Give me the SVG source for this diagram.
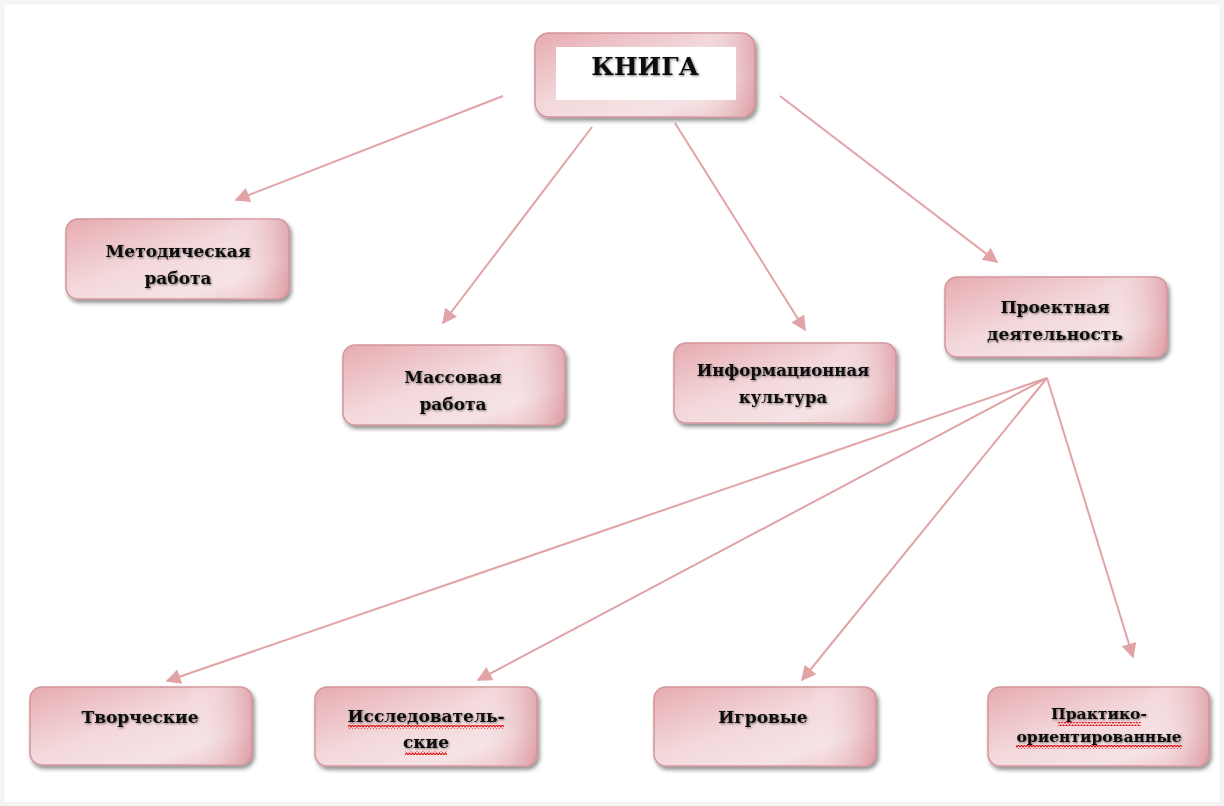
<svg xmlns="http://www.w3.org/2000/svg" width="1224" height="806" viewBox="0 0 1224 806">
<defs>
<linearGradient id="g" x1="0" y1="0" x2="1" y2="1">
<stop offset="0" stop-color="#e6abb0"/>
<stop offset="0.45" stop-color="#f3d8db"/>
<stop offset="0.75" stop-color="#f6e3e5"/>
<stop offset="1" stop-color="#eabdc1"/>
</linearGradient>
<linearGradient id="gr" x1="0" y1="0" x2="1" y2="0">
<stop offset="0.7" stop-color="#ffffff" stop-opacity="0"/>
<stop offset="1" stop-color="#d4868f" stop-opacity="0.6"/>
</linearGradient>
<filter id="sh" x="-10%" y="-10%" width="125%" height="135%">
<feGaussianBlur in="SourceAlpha" stdDeviation="2"/>
<feOffset dx="2" dy="3"/>
<feComponentTransfer><feFuncA type="linear" slope="0.45"/></feComponentTransfer>
<feMerge><feMergeNode/><feMergeNode in="SourceGraphic"/></feMerge>
</filter>
<filter id="ts" x="-5%" y="-20%" width="110%" height="140%">
<feGaussianBlur in="SourceAlpha" stdDeviation="0.8"/>
<feOffset dx="1" dy="1"/>
<feComponentTransfer><feFuncA type="linear" slope="0.5"/></feComponentTransfer>
<feMerge><feMergeNode/><feMergeNode in="SourceGraphic"/></feMerge>
</filter>
<marker id="ah2" viewBox="0 0 10 10" refX="9" refY="5" markerWidth="17" markerHeight="15" markerUnits="userSpaceOnUse" orient="auto">
<path d="M0,0 L10,5 L0,10 z" fill="#e2a3a7"/>
</marker>
<pattern id="wv" width="6" height="4" patternUnits="userSpaceOnUse">
<path d="M0,3 L1.5,1 L3,3 L4.5,1 L6,3" fill="none" stroke="#e01818" stroke-width="1.2"/>
</pattern>
</defs>
<style>
.box{fill:url(#g);stroke:#d2959b;stroke-width:1.5}
.edge{fill:url(#gr)}
.t{font-family:"DejaVu Serif","Liberation Serif",serif;font-weight:bold;font-size:17px;fill:#111;text-anchor:middle}
.big{font-size:25px}
.sm{font-size:15.5px}
.c{stroke:#e2a3a7;stroke-width:2;fill:none;marker-end:url(#ah2)}
</style>
<rect width="1224" height="806" fill="#ffffff"/>
<rect x="2" y="2" width="1220" height="802" fill="none" stroke="#f4f4f4" stroke-width="5"/>

<g id="connectors">
<line class="c" x1="503" y1="96" x2="236" y2="200"/>
<line class="c" x1="592" y1="127" x2="443" y2="323"/>
<line class="c" x1="675" y1="123" x2="805" y2="330"/>
<line class="c" x1="780" y1="96" x2="997" y2="262"/>
<line class="c" x1="1047" y1="378" x2="167" y2="681"/>
<line class="c" x1="1047" y1="378" x2="478" y2="680"/>
<line class="c" x1="1047" y1="378" x2="802" y2="680"/>
<line class="c" x1="1047" y1="378" x2="1133" y2="657"/>
</g>

<g id="kniga" filter="url(#sh)">
<rect class="box" x="535" y="33" width="220" height="84" rx="14"/>
<rect class="edge" x="535" y="33" width="220" height="84" rx="14"/>
<rect x="556" y="47" width="180" height="53" fill="#ffffff"/>
<text class="t big" x="645" y="75" filter="url(#ts)">КНИГА</text>
</g>

<g id="metod" filter="url(#sh)">
<rect class="box" x="66" y="219" width="223" height="80" rx="12"/>
<rect class="edge" x="66" y="219" width="223" height="80" rx="12"/>
<text class="t" x="178" y="257" filter="url(#ts)">Методическая</text>
<text class="t" x="178" y="284" filter="url(#ts)">работа</text>
</g>

<g id="massovaya" filter="url(#sh)">
<rect class="box" x="343" y="345" width="222" height="80" rx="12"/>
<rect class="edge" x="343" y="345" width="222" height="80" rx="12"/>
<text class="t" x="453" y="383" filter="url(#ts)">Массовая</text>
<text class="t" x="453" y="410" filter="url(#ts)">работа</text>
</g>

<g id="inform" filter="url(#sh)">
<rect class="box" x="674" y="343" width="222" height="80" rx="12"/>
<rect class="edge" x="674" y="343" width="222" height="80" rx="12"/>
<text class="t" x="783" y="376" style="font-size:16.5px" filter="url(#ts)">Информационная</text>
<text class="t" x="783" y="403" style="font-size:16.5px" filter="url(#ts)">культура</text>
</g>

<g id="proekt" filter="url(#sh)">
<rect class="box" x="945" y="277" width="222" height="80" rx="12"/>
<rect class="edge" x="945" y="277" width="222" height="80" rx="12"/>
<text class="t" x="1055" y="313" filter="url(#ts)">Проектная</text>
<text class="t" x="1055" y="340" filter="url(#ts)">деятельность</text>
</g>

<g id="tvorch" filter="url(#sh)">
<rect class="box" x="30" y="687" width="222" height="78" rx="12"/>
<rect class="edge" x="30" y="687" width="222" height="78" rx="12"/>
<text class="t" x="140" y="723" filter="url(#ts)">Творческие</text>
</g>

<g id="issled" filter="url(#sh)">
<rect class="box" x="315" y="687" width="222" height="79" rx="12"/>
<rect class="edge" x="315" y="687" width="222" height="79" rx="12"/>
<text class="t" x="426" y="722" filter="url(#ts)">Исследователь-</text>
<text class="t" x="426" y="748" filter="url(#ts)">ские</text>
<rect x="348" y="725" width="156" height="4" fill="url(#wv)"/>
<rect x="405" y="751" width="42" height="4" fill="url(#wv)"/>
</g>

<g id="igrovye" filter="url(#sh)">
<rect class="box" x="654" y="687" width="222" height="79" rx="12"/>
<rect class="edge" x="654" y="687" width="222" height="79" rx="12"/>
<text class="t" x="763" y="723" filter="url(#ts)">Игровые</text>
</g>

<g id="praktiko" filter="url(#sh)">
<rect class="box" x="988" y="687" width="221" height="79" rx="12"/>
<rect class="edge" x="988" y="687" width="221" height="79" rx="12"/>
<text class="t sm" x="1099" y="719" filter="url(#ts)">Практико-</text>
<text class="t sm" x="1099" y="742" filter="url(#ts)">ориентированные</text>
<rect x="1058" y="722" width="83" height="4" fill="url(#wv)"/>
<rect x="1016" y="745" width="166" height="4" fill="url(#wv)"/>
</g>
</svg>
